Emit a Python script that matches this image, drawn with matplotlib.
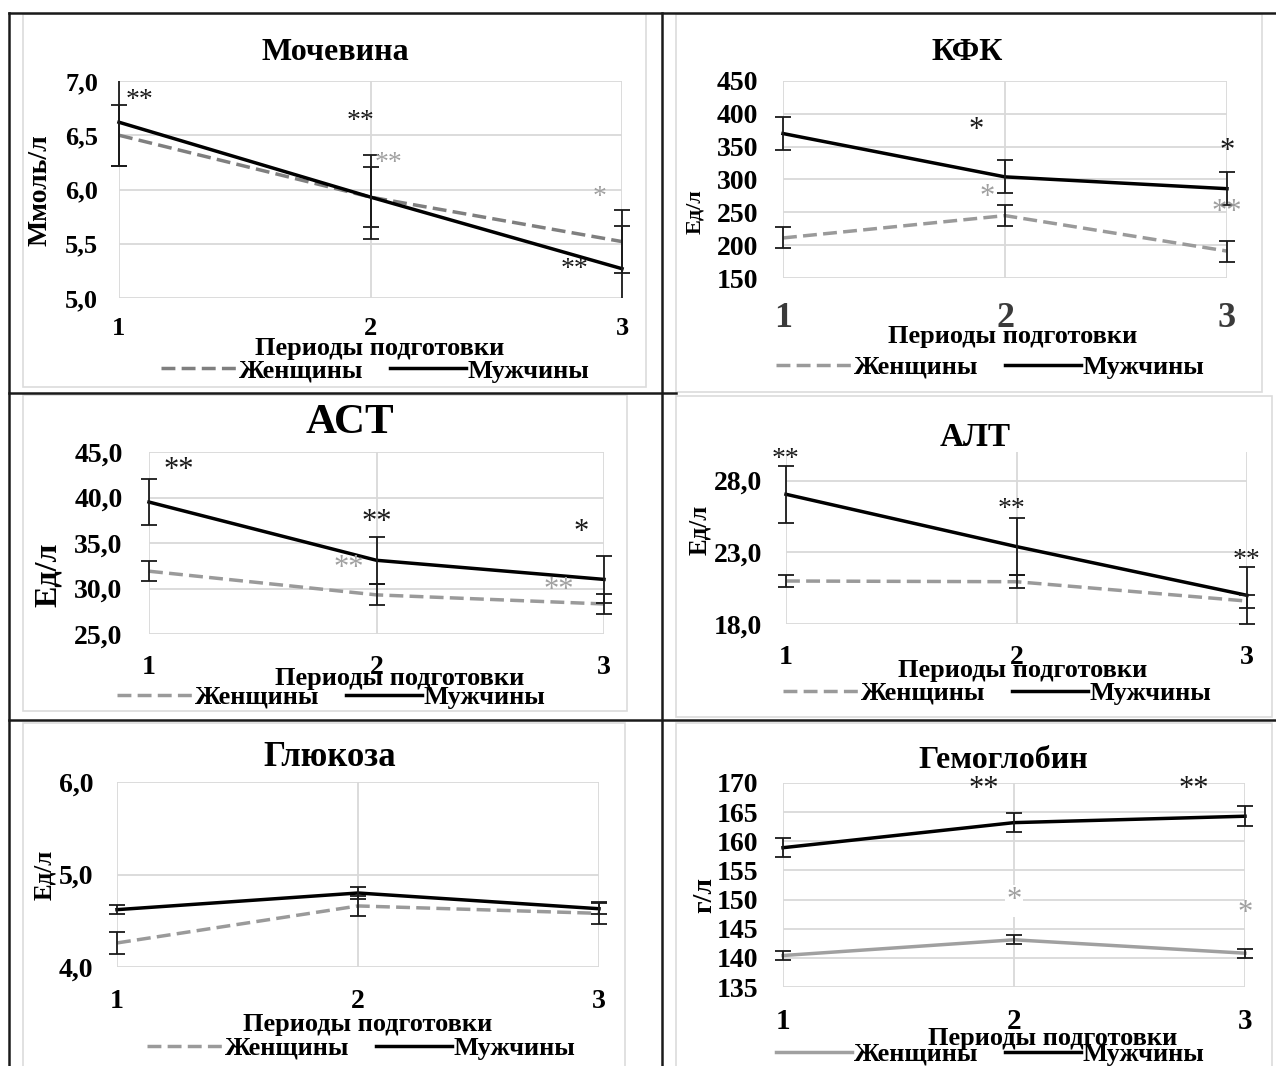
import matplotlib
matplotlib.use('Agg')
import matplotlib.pyplot as plt
from matplotlib.lines import Line2D
from matplotlib.patches import Rectangle
from matplotlib.transforms import Bbox, TransformedBbox
from matplotlib.ticker import FuncFormatter

W, H = 1276, 1066
plt.rcParams['font.family'] = ['Liberation Serif', 'DejaVu Serif']
plt.rcParams['font.weight'] = 'bold'

periods = [1, 2, 3]
xlabel = 'Периоды подготовки'
women_label = 'Женщины'
men_label = 'Мужчины'

# Мочевина, ммоль/л
urea_w = [6.50, 5.93, 5.52]
urea_w_err = [0.28, 0.28, 0.29]
urea_m = [6.62, 5.93, 5.27]
urea_m_err = [0.40, 0.39, 0.39]
urea_ticks = [5.0, 5.5, 6.0, 6.5, 7.0]
urea_stars = [(1.08, 6.82, '**', 'k'), (1.96, 6.63, '**', 'k'),
              (2.07, 6.24, '**', 'g'), (2.91, 5.93, '*', 'g'),
              (2.81, 5.26, '**', 'k')]

# КФК, Ед/л
ck_w = [211, 245, 191]
ck_w_err = [16, 16, 16]
ck_m = [370, 304, 286]
ck_m_err = [25, 25, 25]
ck_ticks = [150, 200, 250, 300, 350, 400, 450]
ck_stars = [(1.87, 375, '*', 'k'), (1.92, 272, '*', 'g'),
            (3.0, 343, '*', 'k'), (3.0, 250, '**', 'g')]

# АСТ, Ед/л
ast_w = [31.9, 29.3, 28.3]
ast_w_err = [1.1, 1.15, 1.15]
ast_m = [39.5, 33.1, 31.0]
ast_m_err = [2.5, 2.6, 2.55]
ast_ticks = [25.0, 30.0, 35.0, 40.0, 45.0]
ast_stars = [(1.13, 43.0, '**', 'k'), (2.0, 37.2, '**', 'k'),
             (2.9, 36.1, '*', 'k'), (1.88, 32.2, '**', 'g'),
             (2.8, 29.8, '**', 'g')]

# АЛТ, Ед/л
alt_w = [21.0, 20.95, 19.6]
alt_w_err = [0.45, 0.45, 0.45]
alt_m = [27.05, 23.4, 20.0]
alt_m_err = [2.0, 2.0, 2.0]
alt_ticks = [18.0, 23.0, 28.0]
alt_stars = [(1.0, 29.5, '**', 'k'), (1.98, 26.0, '**', 'k'),
             (3.0, 22.4, '**', 'k')]

# Глюкоза, Ед/л
glu_w = [4.26, 4.66, 4.58]
glu_w_err = [0.12, 0.11, 0.12]
glu_m = [4.62, 4.80, 4.63]
glu_m_err = [0.05, 0.06, 0.06]
glu_ticks = [4.0, 5.0, 6.0]
glu_stars = []

# Гемоглобин, г/л
hb_w = [140.4, 143.1, 140.8]
hb_w_err = [0.7, 0.8, 0.75]
hb_m = [158.9, 163.2, 164.3]
hb_m_err = [1.6, 1.6, 1.7]
hb_ticks = [135, 140, 145, 150, 155, 160, 165, 170]
hb_stars = [(1.87, 168.9, '**', 'k'), (2.78, 168.9, '**', 'k'),
            (2.0, 149.8, '*', 'g'), (3.0, 147.6, '*', 'g')]

GRID = '#d9d9d9'
GRAY = '#9a9a9a'
STAR_COLORS = {'k': '#1a1a1a', 'g': '#a0a0a0'}

fig = plt.figure(figsize=(W / 100, H / 100), dpi=100)


def fx(px):
    return px / W


def fy(py):
    return 1 - py / H


def comma(v, pos=None):
    return f'{v:.1f}'.replace('.', ',')


def draw_panel(p):
    l, t, r, b = p['plot']
    ax = fig.add_axes([fx(l), fy(b), fx(r) - fx(l), fy(t) - fy(b)])
    ax.set_facecolor('none')
    for s in ax.spines.values():
        s.set_visible(False)
    ax.set_xlim(1, 3)
    ax.set_ylim(p['ylim'])
    ax.set_xticks(periods)
    ax.set_yticks(p['yticks'])
    if p['comma']:
        ax.yaxis.set_major_formatter(FuncFormatter(comma))
    ax.grid(True, color=GRID, lw=1.3)
    ax.set_axisbelow(True)
    ax.tick_params(axis='y', length=0, pad=p['ypad'], labelsize=p['yfs'])
    ax.tick_params(axis='x', length=0, pad=p['xpad'], labelsize=p['xfs'],
                   labelcolor=p.get('xcolor', 'black'))

    # clip vertically to the plot, but let caps at x=1 and x=3 show fully
    clip = TransformedBbox(Bbox([[-0.05, 0], [1.05, 1]]), ax.transAxes)

    wstyle = dict(color=p['wcolor'], lw=2.5)
    if p['wdash']:
        wstyle.update(ls=(0, (4, 1.8)))
    lw_, = ax.plot(periods, p['w'], label=women_label, zorder=3, **wstyle)
    lm_, = ax.plot(periods, p['m'], color='black', lw=2.5, label=men_label,
                   zorder=4)
    arts = [lw_, lm_]
    for y, e in ((p['w'], p['werr']), (p['m'], p['merr'])):
        eb = ax.errorbar(periods, y, yerr=e, fmt='none', ecolor='#1a1a1a',
                         elinewidth=1.3, capsize=6, capthick=1.3, zorder=5)
        arts += list(eb.lines[1]) + list(eb.lines[2])
    for a in arts:
        a.set_clip_box(clip)

    for x, y, s, c in p['stars']:
        kw = {}
        if p.get('starbox') and (x, y) == p['starbox']:
            kw['bbox'] = dict(facecolor='white', edgecolor='none', pad=1)
        ax.text(x, y, s, color=STAR_COLORS[c], fontsize=p['sfs'],
                fontweight='normal', ha='center', va='center', zorder=6,
                clip_on=False, **kw)

    fig.text(fx(p['title'][0]), fy(p['title'][1]), p['name'],
             fontsize=p['tfs'], ha='center', va='center')
    fig.text(fx(p['ylab'][0]), fy(p['ylab'][1]), p['unit'], rotation=90,
             fontsize=p['ylfs'], ha='center', va='center')
    fig.text(fx(p['xlab'][0]), fy(p['xlab'][1]), xlabel,
             fontsize=p['xlfs'], ha='center', va='center')
    ax.legend(loc='center', bbox_to_anchor=(fx(p['leg'][0]), fy(p['leg'][1])),
              bbox_transform=fig.transFigure, ncol=2, frameon=False,
              fontsize=p['lfs'], handlelength=2.9, handletextpad=0.05,
              columnspacing=1.0, borderpad=0, borderaxespad=0)


panels = [
    dict(name='Мочевина', unit='Ммоль/л', w=urea_w, werr=urea_w_err,
         m=urea_m, merr=urea_m_err, ylim=(5.0, 7.0), yticks=urea_ticks,
         comma=True, stars=urea_stars, wcolor='#7f7f7f', wdash=True,
         plot=(119, 81, 622, 298), ypad=15, xpad=14, yfs=19, xfs=19,
         sfs=20, tfs=23, ylfs=20, xlfs=19, lfs=19,
         title=(335, 52), ylab=(40, 190), xlab=(380, 348), leg=(375, 371),
         box=(23, 14, 646, 387)),
    dict(name='КФК', unit='Ед/л', w=ck_w, werr=ck_w_err, m=ck_m,
         merr=ck_m_err, ylim=(150, 450), yticks=ck_ticks, comma=False,
         stars=ck_stars, wcolor=GRAY, wdash=True,
         plot=(783, 81, 1227, 278), ypad=18, xpad=17, yfs=20, xfs=26,
         xcolor='#3a3a3a', sfs=22, tfs=23, ylfs=16, xlfs=19, lfs=19,
         title=(967, 52), ylab=(695, 212), xlab=(1013, 336), leg=(990, 367),
         box=(676, 14, 1262, 392)),
    dict(name='АСТ', unit='Ед/л', w=ast_w, werr=ast_w_err, m=ast_m,
         merr=ast_m_err, ylim=(25.0, 45.0), yticks=ast_ticks, comma=True,
         stars=ast_stars, wcolor=GRAY, wdash=True,
         plot=(149, 452, 604, 634), ypad=19, xpad=15, yfs=20, xfs=20,
         sfs=22, tfs=31, ylfs=23, xlfs=19, lfs=19,
         title=(350, 423), ylab=(48, 575), xlab=(400, 678), leg=(331, 697),
         box=(23, 395, 627, 711)),
    dict(name='АЛТ', unit='Ед/л', w=alt_w, werr=alt_w_err, m=alt_m,
         merr=alt_m_err, ylim=(18.0, 30.0), yticks=alt_ticks, comma=True,
         stars=alt_stars, wcolor=GRAY, wdash=True,
         plot=(786, 452, 1247, 624), ypad=17, xpad=15, yfs=20, xfs=20,
         sfs=20, tfs=24, ylfs=18, xlfs=19, lfs=19,
         title=(975, 437), ylab=(700, 530), xlab=(1023, 670), leg=(997, 693),
         box=(676, 396, 1272, 717)),
    dict(name='Глюкоза', unit='Ед/л', w=glu_w, werr=glu_w_err, m=glu_m,
         merr=glu_m_err, ylim=(4.0, 6.0), yticks=glu_ticks, comma=True,
         stars=glu_stars, wcolor=GRAY, wdash=True,
         plot=(117, 782, 599, 967), ypad=17, xpad=16, yfs=20, xfs=20,
         sfs=20, tfs=25, ylfs=18, xlfs=19, lfs=19,
         title=(330, 757), ylab=(45, 875), xlab=(368, 1025), leg=(361, 1048),
         box=(23, 723, 625, 1070)),
    dict(name='Гемоглобин', unit='г/л', w=hb_w, werr=hb_w_err, m=hb_m,
         merr=hb_m_err, ylim=(135, 170), yticks=hb_ticks, comma=False,
         stars=hb_stars, starbox=(2.0, 149.8), wcolor='#a0a0a0', wdash=False,
         plot=(783, 783, 1245, 987), ypad=18, xpad=15, yfs=20, xfs=21,
         sfs=22, tfs=23, ylfs=20, xlfs=19, lfs=19,
         title=(1003, 760), ylab=(705, 895), xlab=(1053, 1038), leg=(990, 1054),
         box=(676, 723, 1272, 1070)),
]

# chart-area outlines
for p in panels:
    l, t, r, b = p['box']
    fig.add_artist(Rectangle((fx(l), fy(b)), fx(r) - fx(l), fy(t) - fy(b),
                             transform=fig.transFigure, fill=False,
                             edgecolor='#dcdcdc', lw=1.2, zorder=0))

for p in panels:
    draw_panel(p)

# table borders
table_lines = [((9, 1276), (13, 13)), ((9, 9), (13, 1066)),
               ((662, 662), (13, 1066)), ((9, 676), (393, 393)),
               ((9, 1276), (720, 720))]
for xs, ys in table_lines:
    fig.add_artist(Line2D([fx(xs[0]), fx(xs[1])], [fy(ys[0]), fy(ys[1])],
                          transform=fig.transFigure, color='#1a1a1a',
                          lw=1.8, zorder=10))

fig.savefig('out.png', dpi=100, facecolor='white')
